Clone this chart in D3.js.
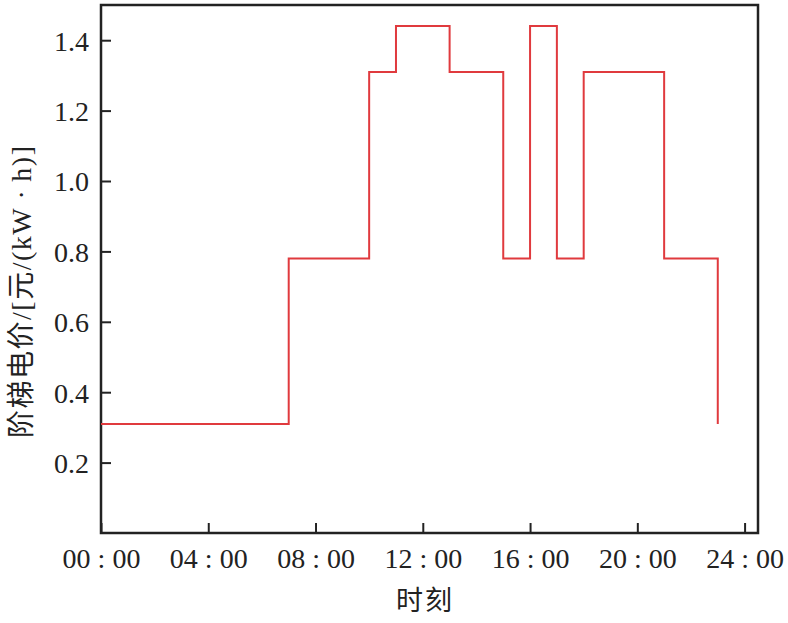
<!DOCTYPE html>
<html><head><meta charset="utf-8">
<script src="https://cdn.jsdelivr.net/npm/d3@7"></script>
<style>body{margin:0;background:#fff} svg text{font-family:"Liberation Serif","Times New Roman",serif;}</style>
</head><body>
<svg id="c" width="788" height="623"></svg>
<script>
const hours = [0, 7, 10, 11, 13, 15, 16, 17, 18, 21, 23];
const prices = [0.31, 0.78, 1.31, 1.44, 1.31, 0.78, 1.44, 0.78, 1.31, 0.78, 0.31];
const xTicks = [0, 4, 8, 12, 16, 20, 24];
const xTickLabels = ["00 : 00", "04 : 00", "08 : 00", "12 : 00", "16 : 00", "20 : 00", "24 : 00"];
const yTicks = [0.2, 0.4, 0.6, 0.8, 1.0, 1.2, 1.4];
const xTitle = "时刻";
const yTitle = "阶梯电价/[元/(kW\u2009·\u2009h)]";

const svg = d3.select("#c");
const m = {l: 101, t: 5, r: 30, b: 90};
const W = 788 - m.l - m.r, H = 623 - m.t - m.b;
const x = d3.scaleLinear().domain([0, 24.5]).range([0, W]);
const y = d3.scaleLinear().domain([0, 1.5]).range([H, 0]);
const g = svg.append("g").attr("transform", `translate(${m.l},${m.t})`);
const serif = '"Liberation Serif","Times New Roman",serif';
const axisCol = "#222";

const xa = g.append("g").attr("transform", `translate(0,${H})`)
  .call(d3.axisBottom(x).tickValues(xTicks).tickSizeInner(-10).tickSizeOuter(0).tickPadding(15)
    .tickFormat((d, i) => xTickLabels[i]));
const ya = g.append("g")
  .call(d3.axisLeft(y).tickValues(yTicks).tickSizeInner(-10).tickSizeOuter(0).tickPadding(12)
    .tickFormat(d3.format(".1f")));
[xa, ya].forEach(a => {
  a.attr("font-family", serif).attr("font-size", 28);
  a.selectAll(".domain").remove();
  a.selectAll("line").attr("stroke", axisCol).attr("stroke-width", 2);
  a.selectAll("text").attr("fill", "#222").attr("font-family", serif).style("font-size", "28px");
});
xa.selectAll("text").attr("dy", "0.71em");
ya.selectAll("text").attr("dy", "0.35em");

g.append("rect").attr("x", x(0)).attr("y", 0).attr("width", x(24.5) - x(0)).attr("height", H)
  .attr("fill", "none").attr("stroke", axisCol).attr("stroke-width", 2.5);

const pts = hours.map((h, i) => [h, prices[i]]);
g.append("path").datum(pts)
  .attr("d", d3.line().x(d => x(d[0])).y(d => y(d[1])).curve(d3.curveStepAfter))
  .attr("fill", "none").attr("stroke", "#e03a3e").attr("stroke-width", 2);

const mixed = '"Liberation Serif","Noto Sans CJK SC",serif';
svg.append("text").attr("x", 425).attr("y", 610).attr("text-anchor", "middle")
  .style("font-family", mixed).style("font-size", "27px").attr("fill", "#222")
  .attr("letter-spacing", 2)
  .text(xTitle);
svg.append("text").attr("transform", "translate(31,292) rotate(-90)").attr("text-anchor", "middle")
  .style("font-family", mixed).style("font-size", "28px").attr("fill", "#222")
  .attr("textLength", 292).attr("lengthAdjust", "spacing")
  .text(yTitle);
</script>
</body></html>
